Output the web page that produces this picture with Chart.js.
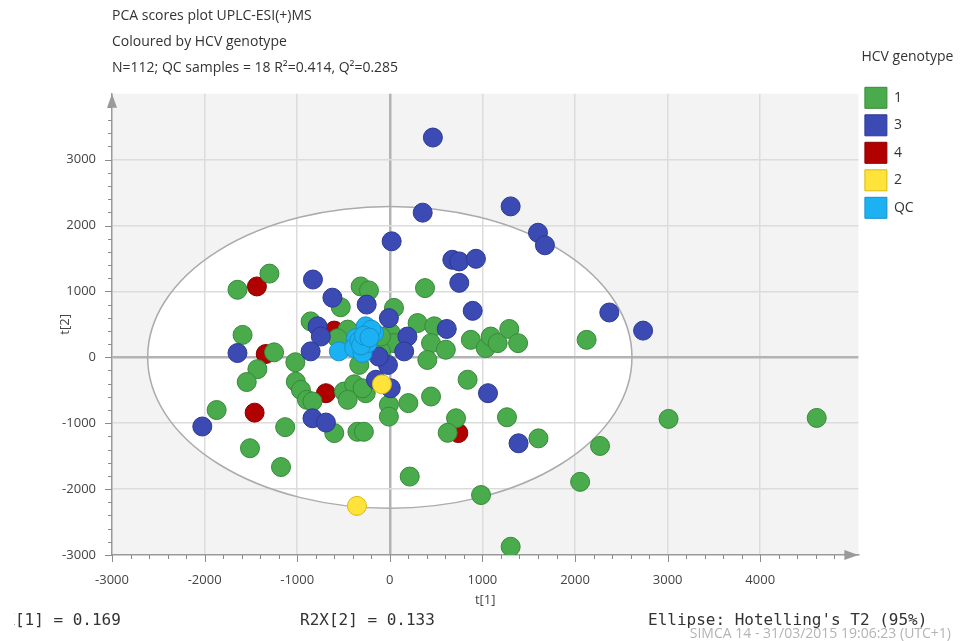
<!DOCTYPE html>
<html>
<head>
<meta charset="utf-8">
<title>PCA scores plot</title>
<script src="https://cdn.jsdelivr.net/npm/chart.js@4"></script>
<style>
  html, body { margin: 0; padding: 0; background: #fff; }
  #wrap { width: 967px; height: 641px; position: relative; }
</style>
</head>
<body>
<div id="wrap"><canvas id="pcaChart"></canvas></div>
<script>
// scores t[1], t[2] per HCV genotype
const genotype1 = [
    [-1300, 1270], [-1645, 1025], [-1590, 340], [-1250, 75], [-1430, -180], [-1545, -375],
    [-1020, -75], [-1015, -370], [-960, -495], [-895, -645], [-1870, -800], [-1130, -1060],
    [-1510, -1380], [-1175, -1665], [-835, -670], [-495, -520], [-385, -410], [-455, -645],
    [-260, -545], [-295, -470], [-10, -720], [-10, -900], [200, -695], [445, -595],
    [840, -340], [715, -925], [625, -1145], [1265, -910], [1605, -1230], [2270, -1345],
    [2055, -1890], [3010, -935], [4610, -920], [215, -1810], [985, -2090], [1305, -2875],
    [-600, -1150], [-350, -1130], [-280, -1130], [-315, 1075], [-225, 1015], [-530, 760],
    [380, 1050], [45, 750], [-855, 545], [-455, 420], [-565, 290], [300, 520],
    [480, 470], [10, 370], [-60, 215], [45, 215], [445, 215], [605, 115],
    [405, -40], [875, 265], [1035, 140], [1090, 315], [1165, 215], [1290, 430],
    [1385, 215], [2125, 265], [-330, -115], [-95, 90], [-95, 315]
];
const genotype3 = [
    [465, 3335], [355, 2195], [1305, 2290], [20, 1760], [1600, 1890], [1675, 1700],
    [675, 1480], [750, 1455], [930, 1495], [750, 1130], [895, 705], [2370, 680],
    [2735, 405], [-830, 1180], [-620, 905], [-250, 800], [-780, 470], [-745, 315],
    [-855, 90], [-10, 595], [190, 315], [155, 90], [615, 430], [-20, -115],
    [-1645, 65], [-150, -340], [10, -470], [1060, -545], [1390, -1305], [-835, -925],
    [-690, -990], [-2025, -1050], [-120, 10]
];
const genotype4 = [
    [-1435, 1075], [-1340, 50], [-1460, -840], [-690, -545], [740, -1150], [-600, 405]
];
const genotype2 = [
    [-85, -410], [-355, -2255]
];
const qcSamples = [
    [-260, 470], [-170, 370], [-365, 290], [-550, 90], [-385, 140], [-295, 65],
    [-240, 215], [-330, 250], [-200, 420], [-310, 180], [-280, 330], [-220, 300]
];

const xTickValues = [-3000, -2000, -1000, 0, 1000, 2000, 3000, 4000];
const yTickValues = [-3000, -2000, -1000, 0, 1000, 2000, 3000];

const legendOrder = ['1', '3', '4', '2', 'QC'];
const legendTitle = 'HCV genotype';
const titleLines = [
    'PCA scores plot UPLC-ESI(+)MS',
    'Coloured by HCV genotype',
    'N=112; QC samples = 18 R\u00B2=0.414, Q\u00B2=0.285'
];
const footerTexts = ['R2X[1] = 0.169', 'R2X[2] = 0.133', "Ellipse: Hotelling's T2 (95%)"];
const stampText = 'SIMCA 14 - 31/03/2015 19:06:23 (UTC+1)';

// Hotelling's T2 (95%) ellipse, in score units
const ellipseRx = 2615;
const ellipseRy = 2290;

const xMin = -3000, xMax = 5060;
const yMin = -3000, yMax = 4000;

const toXY = (arr) => arr.map(p => ({x: p[0], y: p[1]}));

Chart.defaults.font.family = "'Open Sans', sans-serif";
Chart.defaults.color = '#444';

function ellipsePath(chart) {
    const {ctx, scales: {x, y}} = chart;
    const cx = x.getPixelForValue(0), cy = y.getPixelForValue(0);
    const rx = x.getPixelForValue(ellipseRx) - cx;
    const ry = cy - y.getPixelForValue(ellipseRy);
    ctx.beginPath();
    ctx.ellipse(cx, cy, rx, ry, 0, 0, Math.PI * 2);
}

const simcaFrame = {
    id: 'simcaFrame',
    beforeDraw(chart) {
        const {ctx, chartArea: a} = chart;
        ctx.save();
        ctx.fillStyle = '#f3f3f3';
        ctx.fillRect(a.left, a.top, a.right - a.left, a.bottom - a.top);
        ellipsePath(chart);
        ctx.fillStyle = '#ffffff';
        ctx.fill();
        ctx.restore();
    },
    beforeDatasetsDraw(chart) {
        const ctx = chart.ctx;
        ctx.save();
        ellipsePath(chart);
        ctx.strokeStyle = '#ababab';
        ctx.lineWidth = 1.5;
        ctx.stroke();
        ctx.restore();
    },
    afterDraw(chart) {
        const {ctx, chartArea: a, scales: {x, y}} = chart;
        ctx.save();
        // tick marks, minor every 200
        ctx.strokeStyle = '#8c8c8c';
        ctx.lineWidth = 1;
        ctx.beginPath();
        for (let v = xMin; v <= 4800; v += 200) {
            const px = Math.round(x.getPixelForValue(v)) + 0.5;
            const len = v % 1000 === 0 ? 7 : 4;
            ctx.moveTo(px, a.bottom);
            ctx.lineTo(px, a.bottom + len);
        }
        for (let v = yMin; v <= 3800; v += 200) {
            const py = Math.round(y.getPixelForValue(v)) + 0.5;
            const len = v % 1000 === 0 ? 7 : 4;
            ctx.moveTo(a.left, py);
            ctx.lineTo(a.left - len, py);
        }
        ctx.stroke();
        // axis arrows
        ctx.fillStyle = '#9a9a9a';
        ctx.beginPath();
        ctx.moveTo(a.left, a.top);
        ctx.lineTo(a.left - 5, a.top + 14);
        ctx.lineTo(a.left + 5, a.top + 14);
        ctx.closePath();
        ctx.fill();
        ctx.beginPath();
        ctx.moveTo(a.right, a.bottom);
        ctx.lineTo(a.right - 14, a.bottom - 5);
        ctx.lineTo(a.right - 14, a.bottom + 5);
        ctx.closePath();
        ctx.fill();
        // legend heading
        ctx.fillStyle = '#333';
        ctx.font = "14px 'Open Sans', sans-serif";
        ctx.textBaseline = 'middle';
        ctx.textAlign = 'left';
        ctx.fillText(legendTitle, chart.legend.left + 3, 57);
        // footer (the left one is cut by the screenshot edge)
        ctx.font = "16px 'DejaVu Sans Mono', monospace";
        ctx.fillText(footerTexts[1], 300, 621);
        ctx.fillText(footerTexts[2], 648, 621);
        ctx.save();
        ctx.beginPath();
        ctx.rect(14, 600, 200, 40);
        ctx.clip();
        ctx.fillText(footerTexts[0], -14, 621);
        ctx.restore();
        ctx.fillStyle = '#b4b4b4';
        ctx.font = "14px 'Open Sans', sans-serif";
        ctx.textAlign = 'right';
        ctx.fillText(stampText, 951, 634);
        ctx.restore();
    }
};

const gridColor = (c) => {
    const v = c.tick.value;
    if (v === -3000) return 'rgba(0,0,0,0)';
    return v === 0 ? '#b3b3b3' : '#dcdcdc';
};
const gridWidth = (c) => c.tick.value === 0 ? 2.5 : 1.5;

const ctx = document.getElementById('pcaChart').getContext('2d');
const pcaChart = new Chart(ctx, {
    type: 'scatter',
    data: {
        datasets: [{
            label: 'QC',
            data: toXY(qcSamples),
            backgroundColor: '#1cb1f2',
            borderColor: '#1592cc',
            order: 0
        }, {
            label: '2',
            data: toXY(genotype2),
            backgroundColor: '#ffe33a',
            borderColor: '#d8bb10',
            order: 1
        }, {
            label: '3',
            data: toXY(genotype3),
            backgroundColor: '#3b4bb3',
            borderColor: '#2c3a92',
            order: 2
        }, {
            label: '1',
            data: toXY(genotype1),
            backgroundColor: '#4aab4c',
            borderColor: '#37893a',
            order: 3
        }, {
            label: '4',
            data: toXY(genotype4),
            backgroundColor: '#b00000',
            borderColor: '#8a0000',
            order: 4
        }]
    },
    options: {
        responsive: true,
        maintainAspectRatio: false,
        animation: false,
        events: [],
        elements: {point: {radius: 9.5, borderWidth: 1}},
        layout: {padding: {top: 0, left: 57, right: 47.6, bottom: 31}},
        scales: {
            x: {
                type: 'linear',
                min: xMin,
                max: xMax,
                afterFit(scale) { scale.height = 55; },
                afterBuildTicks(scale) { scale.ticks = xTickValues.map(v => ({value: v})); },
                ticks: {
                    autoSkip: false,
                    maxRotation: 0,
                    padding: 17,
                    font: {size: 13},
                    color: '#444',
                    callback: (v) => String(v)
                },
                grid: {drawTicks: false, color: gridColor, lineWidth: gridWidth},
                border: {color: '#9a9a9a', width: 1.5},
                title: {display: true, text: 't[1]', font: {size: 13}, color: '#444', padding: {top: 0, bottom: 2}}
            },
            y: {
                type: 'linear',
                min: yMin,
                max: yMax,
                afterFit(scale) { scale.width = 55; },
                afterBuildTicks(scale) { scale.ticks = yTickValues.map(v => ({value: v})); },
                ticks: {
                    autoSkip: false,
                    padding: 16,
                    font: {size: 13},
                    color: '#444',
                    callback: (v) => String(v)
                },
                grid: {drawTicks: false, color: gridColor, lineWidth: gridWidth},
                border: {color: '#9a9a9a', width: 1.5},
                title: {display: true, text: 't[2]', font: {size: 13}, color: '#444', padding: {top: 0, bottom: 0}}
            }
        },
        plugins: {
            title: {
                display: true,
                text: titleLines,
                position: 'top',
                align: 'start',
                fullSize: false,
                color: '#333',
                font: {size: 14, weight: 'normal', lineHeight: 1.85},
                padding: {top: 3, bottom: 13}
            },
            legend: {
                position: 'right',
                align: 'start',
                maxWidth: 61,
                title: {display: true, text: ' ', padding: {top: 50, bottom: 14}, font: {size: 14}},
                labels: {
                    boxWidth: 22,
                    boxHeight: 21,
                    padding: 6.5,
                    color: '#333',
                    font: {size: 14},
                    sort: (a, b) => legendOrder.indexOf(a.text) - legendOrder.indexOf(b.text)
                }
            },
            tooltip: {enabled: false}
        }
    },
    plugins: [simcaFrame]
});
</script>
</body>
</html>
